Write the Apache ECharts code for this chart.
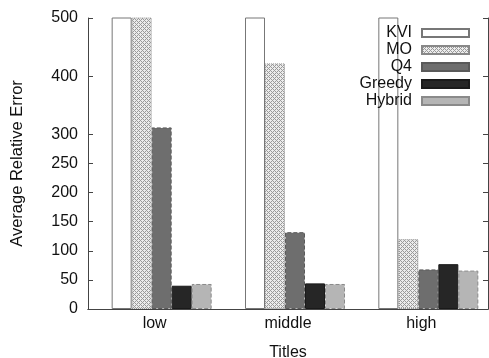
<!DOCTYPE html>
<html>
<head>
<meta charset="utf-8">
<script src="https://cdn.jsdelivr.net/npm/echarts@6/dist/echarts.min.js"></script>
<style>
  html, body { margin: 0; padding: 0; background: #fff; }
  #chart { width: 489px; height: 358px; }
</style>
</head>
<body>
<div id="chart"></div>
<script>
const categories = ['low', 'middle', 'high']
const seriesNames = ['KVI', 'MO', 'Q4', 'Greedy', 'Hybrid']
// KVI runs off the top of the plot in every group
const kvi = [1200, 1200, 1200]
const mo = [520, 422, 120]
const q4 = [312, 132, 68]
const greedy = [40, 44, 77]
const hybrid = [43, 43, 66]
const yTicks = [0, 50, 100, 150, 200, 250, 300, 400, 500]

const font = 'Liberation Sans, Arial, sans-serif'

// cross-hatch fill for MO
function hatch () {
  const c = document.createElement('canvas')
  c.width = 4
  c.height = 4
  const g = c.getContext('2d')
  g.fillStyle = '#ececec'
  g.fillRect(0, 0, 4, 4)
  g.fillStyle = '#9a9a9a'
  g.fillRect(0, 0, 1, 1)
  g.fillRect(2, 2, 1, 1)
  g.fillRect(1, 1, 1, 1)
  g.fillRect(3, 3, 1, 1)
  g.fillRect(3, 1, 1, 1)
  g.fillRect(1, 3, 1, 1)
  return c
}

const styles = [
  { color: '#ffffff', borderColor: '#777', borderWidth: 1 },
  { color: { image: hatch(), repeat: 'repeat' }, borderColor: '#888', borderWidth: 1, borderType: 'dotted' },
  { color: '#6e6e6e', borderColor: '#5a5a5a', borderWidth: 1, borderType: 'dashed' },
  { color: '#262626', borderColor: '#1a1a1a', borderWidth: 1 },
  { color: '#b5b5b5', borderColor: '#8a8a8a', borderWidth: 1, borderType: 'dashed' }
]
const values = [kvi, mo, q4, greedy, hybrid]

const chart = echarts.init(document.getElementById('chart'))
chart.setOption({
  animation: false,
  grid: [
    { left: 88, right: 1, top: 18, bottom: 49, outerBoundsMode: 'none', containLabel: false },
    // bars sit a little right of the category centre
    { left: 95, right: -6, top: 18, bottom: 49, outerBoundsMode: 'none', containLabel: false }
  ],
  legend: {
    orient: 'vertical',
    right: 14,
    top: 20,
    align: 'right',
    icon: 'rect',
    itemWidth: 47,
    itemHeight: 8,
    itemGap: 1,
    selectedMode: false,
    textStyle: { fontFamily: font, fontSize: 16, lineHeight: 15, color: '#111', padding: [0, 5, 0, 0] },
    data: seriesNames
  },
  xAxis: [
    {
      type: 'category',
      gridIndex: 0,
      data: categories,
      name: 'Titles',
      nameLocation: 'middle',
      nameGap: 36,
      nameTextStyle: { fontFamily: font, fontSize: 16, color: '#111' },
      axisLine: { lineStyle: { color: '#444' } },
      axisTick: { inside: true, length: 5, lineStyle: { color: '#444' } },
      axisLabel: { fontFamily: font, fontSize: 16, color: '#111', margin: 7 }
    },
    {
      type: 'category',
      gridIndex: 0,
      position: 'top',
      data: categories,
      axisLine: { lineStyle: { color: '#444' } },
      axisTick: { inside: true, length: 5, lineStyle: { color: '#444' } },
      axisLabel: { show: false }
    },
    {
      type: 'category',
      gridIndex: 1,
      data: categories,
      show: false
    }
  ],
  yAxis: [
    {
      type: 'value',
      gridIndex: 0,
      min: 0,
      max: 500,
      interval: 50,
      name: 'Average Relative Error',
      nameLocation: 'middle',
      nameGap: 62,
      nameTextStyle: { fontFamily: font, fontSize: 16.5, color: '#111' },
      axisLine: { show: true, lineStyle: { color: '#444' } },
      axisTick: { show: true, inside: true, length: 5, customValues: yTicks, lineStyle: { color: '#444' } },
      axisLabel: { fontFamily: font, fontSize: 16, color: '#111', margin: 10, customValues: yTicks },
      splitLine: { show: false }
    },
    {
      type: 'value',
      gridIndex: 0,
      position: 'right',
      min: 0,
      max: 500,
      interval: 50,
      axisLine: { show: true, lineStyle: { color: '#444' } },
      axisTick: { show: true, inside: true, length: 5, customValues: yTicks, lineStyle: { color: '#444' } },
      axisLabel: { show: false },
      splitLine: { show: false }
    },
    {
      type: 'value',
      gridIndex: 1,
      min: 0,
      max: 500,
      show: false
    }
  ],
  series: seriesNames.map((name, i) => ({
    name,
    type: 'bar',
    xAxisIndex: 2,
    yAxisIndex: 2,
    barWidth: 20,
    barGap: '0%',
    clip: true,
    itemStyle: styles[i],
    data: values[i]
  }))
})
</script>
</body>
</html>
